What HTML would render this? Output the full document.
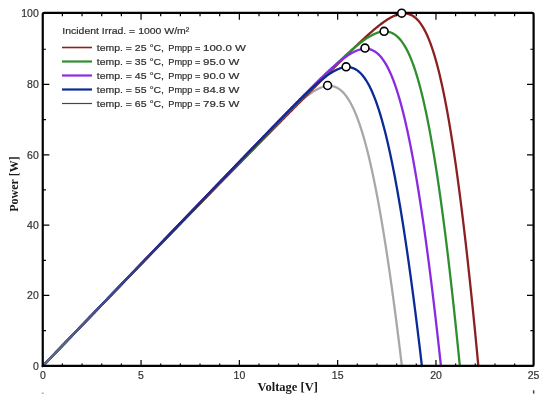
<!DOCTYPE html>
<html><head><meta charset="utf-8"><style>
html,body{margin:0;padding:0;background:#fff;}
body{width:550px;height:399px;overflow:hidden;}
svg{display:block;filter:blur(0.3px);}
.lab text{font-family:"Liberation Sans",sans-serif;font-size:10.5px;fill:#333;stroke:#333;stroke-width:0.2px;}
.leg text{font-family:"Liberation Sans",sans-serif;font-size:9.6px;fill:#2e2e2e;stroke:#2e2e2e;stroke-width:0.2px;}
.ttl{font-family:"Liberation Serif",serif;font-weight:bold;font-size:12px;fill:#1a1a1a;}
</style></head><body>
<svg width="550" height="399" viewBox="0 0 550 399">
<rect width="550" height="399" fill="#fff"/>
<g fill="none" stroke-width="2.3" stroke-linejoin="round" stroke-linecap="round">
<path d="M42.80,366.00 L44.13,364.62 L44.85,363.87 L45.57,363.12 L46.29,362.38 L47.01,361.63 L47.73,360.88 L48.45,360.13 L49.17,359.38 L49.89,358.63 L50.61,357.88 L51.33,357.14 L52.05,356.39 L52.77,355.64 L53.49,354.89 L54.21,354.14 L54.93,353.39 L55.66,352.64 L56.38,351.90 L57.10,351.15 L57.82,350.40 L58.54,349.65 L59.26,348.90 L59.98,348.15 L60.70,347.40 L61.42,346.66 L62.14,345.91 L62.86,345.16 L63.58,344.41 L64.30,343.66 L65.02,342.91 L65.74,342.16 L66.46,341.42 L67.18,340.67 L67.90,339.92 L68.63,339.17 L69.35,338.42 L70.07,337.67 L70.79,336.92 L71.51,336.18 L72.23,335.43 L72.95,334.68 L73.67,333.93 L74.39,333.18 L75.11,332.43 L75.83,331.68 L76.55,330.94 L77.27,330.19 L77.99,329.44 L78.71,328.69 L79.43,327.94 L80.15,327.19 L80.87,326.44 L81.59,325.70 L82.32,324.95 L83.04,324.20 L83.76,323.45 L84.48,322.70 L85.20,321.95 L85.92,321.20 L86.64,320.46 L87.36,319.71 L88.08,318.96 L88.80,318.21 L89.52,317.46 L90.24,316.71 L90.96,315.96 L91.68,315.22 L92.40,314.47 L93.12,313.72 L93.84,312.97 L94.56,312.22 L95.28,311.47 L96.01,310.72 L96.73,309.98 L97.45,309.23 L98.17,308.48 L98.89,307.73 L99.61,306.98 L100.33,306.23 L101.05,305.48 L101.77,304.74 L102.49,303.99 L103.21,303.24 L103.93,302.49 L104.65,301.74 L105.37,300.99 L106.09,300.24 L106.81,299.50 L107.53,298.75 L108.25,298.00 L108.97,297.25 L109.70,296.50 L110.42,295.75 L111.14,295.00 L111.86,294.26 L112.58,293.51 L113.30,292.76 L114.02,292.01 L114.74,291.26 L115.46,290.51 L116.18,289.76 L116.90,289.02 L117.62,288.27 L118.34,287.52 L119.06,286.77 L119.78,286.02 L120.50,285.27 L121.22,284.52 L121.94,283.78 L122.67,283.03 L123.39,282.28 L124.11,281.53 L124.83,280.78 L125.55,280.03 L126.27,279.28 L126.99,278.54 L127.71,277.79 L128.43,277.04 L129.15,276.29 L129.87,275.54 L130.59,274.79 L131.31,274.04 L132.03,273.30 L132.75,272.55 L133.47,271.80 L134.19,271.05 L134.91,270.30 L135.63,269.55 L136.36,268.80 L137.08,268.06 L137.80,267.31 L138.52,266.56 L139.24,265.81 L139.96,265.06 L140.68,264.31 L141.40,263.56 L142.12,262.82 L142.84,262.07 L143.56,261.32 L144.28,260.57 L145.00,259.82 L145.72,259.07 L146.44,258.32 L147.16,257.58 L147.88,256.83 L148.60,256.08 L149.32,255.33 L150.05,254.58 L150.77,253.83 L151.49,253.08 L152.21,252.34 L152.93,251.59 L153.65,250.84 L154.37,250.09 L155.09,249.34 L155.81,248.59 L156.53,247.84 L157.25,247.10 L157.97,246.35 L158.69,245.60 L159.41,244.85 L160.13,244.10 L160.85,243.35 L161.57,242.60 L162.29,241.86 L163.02,241.11 L163.74,240.36 L164.46,239.61 L165.18,238.86 L165.90,238.11 L166.62,237.36 L167.34,236.62 L168.06,235.87 L168.78,235.12 L169.50,234.37 L170.22,233.62 L170.94,232.87 L171.66,232.12 L172.38,231.38 L173.10,230.63 L173.82,229.88 L174.54,229.13 L175.26,228.38 L175.98,227.63 L176.71,226.88 L177.43,226.14 L178.15,225.39 L178.87,224.64 L179.59,223.89 L180.31,223.14 L181.03,222.39 L181.75,221.64 L182.47,220.90 L183.19,220.15 L183.91,219.40 L184.63,218.65 L185.35,217.90 L186.07,217.15 L186.79,216.40 L187.51,215.66 L188.23,214.91 L188.95,214.16 L189.68,213.41 L190.40,212.66 L191.12,211.91 L191.84,211.17 L192.56,210.42 L193.28,209.67 L194.00,208.92 L194.72,208.17 L195.44,207.42 L196.16,206.67 L196.88,205.93 L197.60,205.18 L198.32,204.43 L199.04,203.68 L199.76,202.93 L200.48,202.18 L201.20,201.44 L201.92,200.69 L202.65,199.94 L203.37,199.19 L204.09,198.44 L204.81,197.69 L205.53,196.95 L206.25,196.20 L206.97,195.45 L207.69,194.70 L208.41,193.95 L209.13,193.20 L209.85,192.46 L210.57,191.71 L211.29,190.96 L212.01,190.21 L212.73,189.46 L213.45,188.71 L214.17,187.97 L214.90,187.22 L215.62,186.47 L216.34,185.72 L217.06,184.97 L217.78,184.23 L218.50,183.48 L219.22,182.73 L219.94,181.98 L220.66,181.23 L221.38,180.49 L222.10,179.74 L222.82,178.99 L223.54,178.24 L224.26,177.49 L224.98,176.75 L225.70,176.00 L226.43,175.25 L227.15,174.50 L227.87,173.76 L228.59,173.01 L229.31,172.26 L230.03,171.51 L230.75,170.77 L231.47,170.02 L232.18,169.28 L232.90,168.53 L233.62,167.79 L234.34,167.04 L235.06,166.30 L235.78,165.55 L236.50,164.81 L237.21,164.06 L237.93,163.32 L238.65,162.58 L239.37,161.83 L240.09,161.09 L240.81,160.34 L241.53,159.60 L242.25,158.86 L242.96,158.11 L243.68,157.37 L244.40,156.63 L245.12,155.88 L245.84,155.14 L246.56,154.40 L247.28,153.65 L248.00,152.91 L248.72,152.17 L249.43,151.43 L250.15,150.69 L250.87,149.94 L251.59,149.20 L252.31,148.46 L253.03,147.72 L253.75,146.98 L254.47,146.24 L255.19,145.50 L255.91,144.76 L256.63,144.02 L257.34,143.28 L258.06,142.54 L258.78,141.80 L259.50,141.06 L260.22,140.33 L260.94,139.59 L261.66,138.85 L262.38,138.12 L263.10,137.38 L263.82,136.64 L264.54,135.91 L265.26,135.17 L265.98,134.44 L266.70,133.71 L267.42,132.97 L268.14,132.24 L268.86,131.51 L269.58,130.78 L270.30,130.05 L271.02,129.32 L271.74,128.59 L272.46,127.87 L273.19,127.14 L273.91,126.42 L274.63,125.69 L275.35,124.97 L276.07,124.25 L276.79,123.53 L277.51,122.81 L278.23,122.09 L278.96,121.37 L279.68,120.66 L280.40,119.94 L281.12,119.23 L281.85,118.52 L282.57,117.81 L283.29,117.10 L284.02,116.40 L284.74,115.70 L285.46,114.99 L286.19,114.29 L286.91,113.60 L287.64,112.90 L288.36,112.21 L289.08,111.52 L289.81,110.84 L290.54,110.15 L291.26,109.47 L291.99,108.80 L292.71,108.12 L293.44,107.45 L294.17,106.79 L294.90,106.12 L295.63,105.46 L296.35,104.81 L297.08,104.16 L297.81,103.51 L298.54,102.87 L299.27,102.24 L300.00,101.61 L300.74,100.98 L301.47,100.37 L302.20,99.75 L302.94,99.15 L303.67,98.55 L304.41,97.96 L305.14,97.37 L305.88,96.80 L306.62,96.23 L307.35,95.67 L308.09,95.12 L308.83,94.58 L309.58,94.04 L310.32,93.52 L311.06,93.01 L311.81,92.51 L312.55,92.03 L313.30,91.55 L314.05,91.09 L314.80,90.64 L315.50,90.24 L316.20,89.85 L316.90,89.47 L317.61,89.11 L318.31,88.76 L319.02,88.43 L319.73,88.11 L320.44,87.81 L321.15,87.53 L321.87,87.27 L322.59,87.03 L323.30,86.81 L324.02,86.61 L324.75,86.43 L325.47,86.27 L326.20,86.14 L326.93,86.04 L327.66,85.96 L328.39,85.91 L329.13,85.89 L329.87,85.90 L330.61,85.94 L331.36,86.01 L332.11,86.12 L332.86,86.27 L333.56,86.44 L334.27,86.64 L334.97,86.88 L335.69,87.16 L336.40,87.47 L337.12,87.83 L337.84,88.23 L338.57,88.67 L339.30,89.16 L340.03,89.69 L340.77,90.28 L341.51,90.92 L342.26,91.61 L343.01,92.36 L343.71,93.10 L344.36,93.83 L344.95,94.53 L345.54,95.27 L346.14,96.05 L346.68,96.78 L347.22,97.55 L347.70,98.27 L348.19,99.01 L348.68,99.79 L349.11,100.49 L349.54,101.21 L349.98,101.96 L350.42,102.74 L350.85,103.54 L351.23,104.24 L351.61,104.97 L351.99,105.72 L352.38,106.48 L352.76,107.27 L353.15,108.08 L353.54,108.91 L353.86,109.61 L354.19,110.34 L354.51,111.08 L354.84,111.83 L355.17,112.61 L355.50,113.39 L355.84,114.20 L356.17,115.02 L356.50,115.86 L356.84,116.72 L357.18,117.59 L357.45,118.31 L357.72,119.03 L358.00,119.77 L358.27,120.52 L358.55,121.28 L358.82,122.06 L359.10,122.84 L359.38,123.64 L359.66,124.46 L359.94,125.28 L360.22,126.12 L360.51,126.98 L360.79,127.84 L361.07,128.72 L361.36,129.62 L361.65,130.53 L361.94,131.45 L362.15,132.16 L362.37,132.87 L362.59,133.59 L362.81,134.31 L363.03,135.05 L363.25,135.80 L363.47,136.55 L363.69,137.31 L363.91,138.09 L364.14,138.87 L364.36,139.66 L364.58,140.46 L364.81,141.26 L365.04,142.08 L365.26,142.91 L365.49,143.75 L365.72,144.60 L365.95,145.45 L366.18,146.32 L366.41,147.20 L366.64,148.08 L366.87,148.98 L367.10,149.89 L367.34,150.81 L367.57,151.73 L367.81,152.67 L368.04,153.62 L368.28,154.58 L368.52,155.56 L368.75,156.54 L368.99,157.53 L369.23,158.54 L369.47,159.56 L369.72,160.59 L369.96,161.63 L370.12,162.33 L370.28,163.03 L370.45,163.74 L370.61,164.46 L370.77,165.18 L370.94,165.91 L371.10,166.64 L371.27,167.38 L371.43,168.12 L371.60,168.87 L371.77,169.62 L371.93,170.39 L372.10,171.15 L372.27,171.92 L372.44,172.70 L372.60,173.48 L372.77,174.27 L372.94,175.07 L373.11,175.87 L373.28,176.68 L373.45,177.49 L373.62,178.31 L373.79,179.14 L373.97,179.97 L374.14,180.81 L374.31,181.65 L374.49,182.50 L374.66,183.36 L374.83,184.22 L375.01,185.09 L375.18,185.97 L375.36,186.85 L375.54,187.74 L375.71,188.63 L375.89,189.53 L376.07,190.44 L376.24,191.36 L376.42,192.28 L376.60,193.21 L376.78,194.15 L376.96,195.09 L377.14,196.04 L377.32,197.00 L377.50,197.96 L377.69,198.93 L377.87,199.91 L378.05,200.90 L378.23,201.89 L378.42,202.89 L378.60,203.90 L378.79,204.92 L378.97,205.94 L379.16,206.97 L379.35,208.01 L379.53,209.05 L379.72,210.11 L379.91,211.17 L380.10,212.24 L380.29,213.31 L380.48,214.40 L380.67,215.49 L380.86,216.59 L381.05,217.70 L381.24,218.82 L381.44,219.95 L381.63,221.08 L381.82,222.22 L382.02,223.37 L382.21,224.53 L382.41,225.70 L382.61,226.87 L382.80,228.06 L383.00,229.25 L383.20,230.45 L383.40,231.67 L383.60,232.89 L383.80,234.11 L384.00,235.35 L384.20,236.60 L384.40,237.86 L384.60,239.12 L384.80,240.40 L385.01,241.68 L385.21,242.97 L385.42,244.28 L385.62,245.59 L385.83,246.91 L386.04,248.24 L386.24,249.58 L386.45,250.94 L386.66,252.30 L386.87,253.67 L387.08,255.05 L387.29,256.44 L387.50,257.84 L387.61,258.55 L387.71,259.25 L387.82,259.96 L387.93,260.68 L388.03,261.39 L388.14,262.11 L388.25,262.83 L388.36,263.55 L388.46,264.28 L388.57,265.01 L388.68,265.74 L388.79,266.47 L388.89,267.21 L389.00,267.95 L389.11,268.69 L389.22,269.43 L389.33,270.18 L389.44,270.93 L389.55,271.68 L389.66,272.44 L389.77,273.20 L389.87,273.96 L389.98,274.72 L390.09,275.49 L390.21,276.26 L390.32,277.03 L390.43,277.80 L390.54,278.58 L390.65,279.36 L390.76,280.15 L390.87,280.93 L390.98,281.72 L391.09,282.51 L391.21,283.31 L391.32,284.11 L391.43,284.91 L391.54,285.71 L391.66,286.52 L391.77,287.33 L391.88,288.14 L392.00,288.96 L392.11,289.77 L392.22,290.60 L392.34,291.42 L392.45,292.25 L392.56,293.08 L392.68,293.91 L392.79,294.75 L392.91,295.59 L393.02,296.43 L393.14,297.28 L393.25,298.13 L393.37,298.98 L393.49,299.84 L393.60,300.69 L393.72,301.56 L393.83,302.42 L393.95,303.29 L394.07,304.16 L394.19,305.03 L394.30,305.91 L394.42,306.79 L394.54,307.68 L394.66,308.56 L394.77,309.45 L394.89,310.35 L395.01,311.24 L395.13,312.14 L395.25,313.05 L395.37,313.95 L395.49,314.86 L395.61,315.78 L395.73,316.70 L395.85,317.62 L395.97,318.54 L396.09,319.47 L396.21,320.40 L396.33,321.33 L396.45,322.27 L396.57,323.21 L396.69,324.15 L396.81,325.10 L396.93,326.05 L397.06,327.01 L397.18,327.96 L397.30,328.93 L397.42,329.89 L397.55,330.86 L397.67,331.83 L397.79,332.81 L397.92,333.79 L398.04,334.77 L398.17,335.76 L398.29,336.75 L398.42,337.74 L398.54,338.74 L398.66,339.74 L398.79,340.74 L398.92,341.75 L399.04,342.76 L399.17,343.78 L399.29,344.80 L399.42,345.82 L399.55,346.85 L399.67,347.88 L399.80,348.92 L399.93,349.95 L400.06,351.00 L400.18,352.04 L400.31,353.09 L400.44,354.15 L400.57,355.21 L400.70,356.27 L400.83,357.33 L400.95,358.40 L401.08,359.48 L401.21,360.55 L401.34,361.63 L401.47,362.72 L401.60,363.81 L401.74,364.90 L401.87,366.00" stroke="#a8a8a8"/>
<path d="M42.80,366.00 L43.85,364.90 L44.73,363.99 L45.60,363.08 L46.48,362.17 L47.36,361.26 L48.23,360.35 L49.11,359.44 L49.98,358.53 L50.86,357.62 L51.73,356.71 L52.61,355.80 L53.48,354.89 L54.36,353.98 L55.23,353.07 L56.11,352.16 L56.98,351.25 L57.86,350.34 L58.73,349.43 L59.61,348.52 L60.48,347.61 L61.36,346.71 L62.23,345.80 L63.11,344.89 L63.98,343.98 L64.86,343.07 L65.73,342.16 L66.61,341.25 L67.48,340.34 L68.36,339.44 L69.24,338.53 L70.11,337.62 L70.99,336.71 L71.86,335.80 L72.74,334.89 L73.61,333.99 L74.49,333.08 L75.36,332.17 L76.24,331.26 L77.11,330.36 L77.99,329.45 L78.86,328.54 L79.74,327.63 L80.61,326.73 L81.49,325.82 L82.36,324.91 L83.24,324.00 L84.11,323.10 L84.99,322.19 L85.86,321.28 L86.74,320.38 L87.61,319.47 L88.49,318.56 L89.36,317.66 L90.24,316.75 L91.11,315.85 L91.99,314.94 L92.87,314.03 L93.74,313.13 L94.62,312.22 L95.49,311.31 L96.37,310.41 L97.24,309.50 L98.12,308.60 L98.99,307.69 L99.87,306.79 L100.74,305.88 L101.62,304.98 L102.49,304.07 L103.37,303.17 L104.24,302.26 L105.12,301.36 L105.99,300.45 L106.87,299.55 L107.74,298.64 L108.62,297.74 L109.49,296.83 L110.37,295.93 L111.24,295.02 L112.12,294.12 L112.99,293.21 L113.87,292.31 L114.75,291.41 L115.62,290.50 L116.50,289.60 L117.37,288.70 L118.25,287.79 L119.12,286.89 L120.00,285.98 L120.87,285.08 L121.75,284.18 L122.62,283.27 L123.50,282.37 L124.37,281.47 L125.25,280.56 L126.12,279.66 L127.00,278.76 L127.87,277.86 L128.75,276.95 L129.62,276.05 L130.50,275.15 L131.37,274.25 L132.25,273.34 L133.12,272.44 L134.00,271.54 L134.87,270.64 L135.75,269.73 L136.63,268.83 L137.50,267.93 L138.38,267.03 L139.25,266.13 L140.13,265.23 L141.00,264.32 L141.88,263.42 L142.75,262.52 L143.63,261.62 L144.50,260.72 L145.38,259.82 L146.25,258.92 L147.13,258.02 L148.00,257.11 L148.88,256.21 L149.75,255.31 L150.63,254.41 L151.50,253.51 L152.38,252.61 L153.25,251.71 L154.13,250.81 L155.00,249.91 L155.88,249.01 L156.75,248.11 L157.63,247.21 L158.51,246.31 L159.38,245.41 L160.26,244.51 L161.13,243.61 L162.01,242.71 L162.88,241.81 L163.76,240.91 L164.63,240.01 L165.51,239.11 L166.38,238.21 L167.26,237.32 L168.13,236.42 L169.01,235.52 L169.88,234.62 L170.76,233.72 L171.63,232.82 L172.51,231.92 L173.38,231.02 L174.26,230.13 L175.13,229.23 L176.01,228.33 L176.88,227.43 L177.76,226.53 L178.63,225.63 L179.51,224.74 L180.39,223.84 L181.26,222.94 L182.14,222.04 L183.01,221.15 L183.89,220.25 L184.76,219.35 L185.64,218.45 L186.51,217.56 L187.39,216.66 L188.26,215.76 L189.14,214.87 L190.01,213.97 L190.89,213.07 L191.76,212.17 L192.64,211.28 L193.51,210.38 L194.39,209.48 L195.26,208.59 L196.14,207.69 L197.01,206.80 L197.89,205.90 L198.76,205.00 L199.64,204.11 L200.51,203.21 L201.39,202.32 L202.26,201.42 L203.14,200.52 L204.02,199.63 L204.89,198.73 L205.77,197.84 L206.64,196.94 L207.52,196.05 L208.39,195.15 L209.27,194.26 L210.14,193.36 L211.02,192.47 L211.89,191.57 L212.77,190.68 L213.64,189.78 L214.52,188.89 L215.39,187.99 L216.27,187.10 L217.14,186.20 L218.02,185.31 L218.89,184.42 L219.77,183.52 L220.64,182.63 L221.52,181.73 L222.39,180.84 L223.27,179.95 L224.14,179.05 L225.02,178.16 L225.90,177.27 L226.77,176.37 L227.65,175.48 L228.52,174.59 L229.40,173.69 L230.27,172.80 L231.15,171.91 L232.02,171.01 L232.90,170.12 L233.77,169.23 L234.65,168.33 L235.52,167.44 L236.40,166.55 L237.27,165.66 L238.15,164.76 L239.02,163.87 L239.90,162.98 L240.77,162.09 L241.65,161.20 L242.52,160.30 L243.40,159.41 L244.27,158.52 L245.15,157.63 L246.02,156.74 L246.90,155.85 L247.78,154.95 L248.65,154.06 L249.53,153.17 L250.40,152.28 L251.28,151.39 L252.15,150.50 L253.03,149.61 L253.90,148.72 L254.78,147.83 L255.65,146.93 L256.53,146.04 L257.40,145.15 L258.28,144.26 L259.15,143.37 L260.03,142.48 L260.90,141.59 L261.78,140.70 L262.65,139.81 L263.53,138.92 L264.40,138.03 L265.28,137.14 L266.15,136.25 L267.03,135.36 L267.90,134.47 L268.78,133.59 L269.66,132.70 L270.53,131.81 L271.41,130.92 L272.28,130.03 L273.16,129.14 L274.03,128.25 L274.91,127.36 L275.78,126.47 L276.66,125.59 L277.53,124.70 L278.41,123.81 L279.11,123.10 L279.80,122.39 L280.50,121.68 L281.20,120.97 L281.90,120.27 L282.60,119.56 L283.29,118.85 L283.99,118.14 L284.69,117.43 L285.39,116.73 L286.09,116.02 L286.78,115.31 L287.48,114.60 L288.18,113.90 L288.88,113.19 L289.58,112.48 L290.27,111.77 L290.97,111.07 L291.67,110.36 L292.37,109.65 L293.07,108.94 L293.77,108.24 L294.46,107.53 L295.16,106.82 L295.86,106.12 L296.56,105.41 L297.26,104.70 L297.95,104.00 L298.65,103.29 L299.35,102.58 L300.05,101.88 L300.75,101.17 L301.44,100.46 L302.14,99.76 L302.84,99.05 L303.54,98.35 L304.24,97.64 L304.94,96.94 L305.63,96.23 L306.33,95.52 L307.03,94.82 L307.73,94.11 L308.43,93.41 L309.12,92.70 L309.82,92.00 L310.52,91.29 L311.22,90.59 L311.92,89.89 L312.62,89.18 L313.31,88.48 L314.01,87.77 L314.71,87.07 L315.41,86.37 L316.11,85.66 L316.81,84.96 L317.50,84.25 L318.20,83.55 L318.90,82.85 L319.60,82.15 L320.30,81.44 L321.00,80.74 L321.69,80.04 L322.39,79.34 L323.09,78.64 L323.79,77.93 L324.49,77.23 L325.19,76.53 L325.88,75.83 L326.58,75.13 L327.28,74.43 L327.98,73.73 L328.74,72.97 L329.49,72.21 L330.25,71.46 L331.01,70.70 L331.76,69.94 L332.52,69.19 L333.28,68.43 L334.03,67.68 L334.79,66.92 L335.55,66.17 L336.31,65.41 L337.06,64.66 L337.82,63.91 L338.58,63.16 L339.33,62.40 L340.09,61.65 L340.85,60.90 L341.61,60.15 L342.36,59.40 L343.12,58.66 L343.88,57.91 L344.64,57.16 L345.39,56.42 L346.15,55.67 L346.91,54.93 L347.67,54.19 L348.42,53.45 L349.18,52.70 L349.94,51.97 L350.70,51.23 L351.46,50.49 L352.16,49.81 L352.86,49.13 L353.56,48.46 L354.26,47.78 L354.96,47.11 L355.66,46.44 L356.36,45.77 L357.06,45.10 L357.76,44.43 L358.46,43.76 L359.16,43.10 L359.87,42.44 L360.57,41.78 L361.27,41.12 L361.97,40.46 L362.67,39.81 L363.37,39.16 L364.08,38.51 L364.78,37.86 L365.48,37.22 L366.19,36.57 L366.89,35.94 L367.59,35.30 L368.30,34.67 L369.00,34.04 L369.70,33.41 L370.41,32.79 L371.11,32.17 L371.82,31.56 L372.52,30.95 L373.23,30.34 L373.93,29.74 L374.64,29.15 L375.35,28.56 L376.05,27.97 L376.76,27.39 L377.47,26.81 L378.18,26.24 L378.89,25.68 L379.59,25.13 L380.30,24.58 L381.01,24.03 L381.72,23.50 L382.44,22.97 L383.15,22.45 L383.86,21.94 L384.57,21.44 L385.29,20.95 L386.00,20.47 L386.72,20.00 L387.43,19.54 L388.15,19.09 L388.87,18.65 L389.59,18.22 L390.30,17.81 L391.03,17.41 L391.75,17.03 L392.47,16.66 L393.19,16.30 L393.92,15.96 L394.64,15.64 L395.37,15.34 L396.10,15.05 L396.83,14.79 L397.56,14.54 L398.29,14.32 L399.02,14.11 L399.76,13.94 L400.50,13.78 L401.24,13.65 L401.98,13.55 L402.72,13.48 L403.46,13.44 L404.21,13.42 L404.96,13.44 L405.71,13.49 L406.46,13.58 L407.22,13.71 L407.98,13.87 L408.74,14.07 L409.44,14.30 L410.14,14.56 L410.85,14.86 L411.56,15.20 L412.27,15.58 L412.98,16.01 L413.70,16.48 L414.42,17.00 L415.14,17.57 L415.87,18.19 L416.60,18.87 L417.33,19.61 L418.00,20.32 L418.67,21.09 L419.28,21.83 L419.89,22.61 L420.44,23.35 L420.99,24.12 L421.47,24.82 L421.96,25.56 L422.44,26.33 L422.93,27.13 L423.35,27.84 L423.77,28.57 L424.19,29.34 L424.62,30.12 L425.05,30.94 L425.47,31.78 L425.83,32.50 L426.19,33.24 L426.55,34.01 L426.91,34.79 L427.28,35.59 L427.64,36.42 L428.01,37.27 L428.37,38.13 L428.67,38.85 L428.96,39.57 L429.26,40.31 L429.56,41.07 L429.86,41.84 L430.16,42.63 L430.46,43.43 L430.76,44.25 L431.06,45.09 L431.36,45.94 L431.67,46.81 L431.97,47.70 L432.28,48.60 L432.59,49.52 L432.82,50.23 L433.05,50.94 L433.28,51.66 L433.52,52.40 L433.75,53.14 L433.99,53.90 L434.22,54.66 L434.46,55.44 L434.69,56.23 L434.93,57.03 L435.17,57.84 L435.41,58.67 L435.65,59.50 L435.89,60.35 L436.13,61.21 L436.37,62.08 L436.61,62.96 L436.86,63.86 L437.10,64.76 L437.34,65.69 L437.59,66.62 L437.84,67.57 L438.08,68.53 L438.33,69.50 L438.58,70.49 L438.83,71.49 L439.08,72.50 L439.33,73.53 L439.58,74.57 L439.75,75.28 L439.92,75.98 L440.09,76.70 L440.26,77.42 L440.43,78.15 L440.60,78.89 L440.77,79.63 L440.94,80.38 L441.11,81.13 L441.28,81.90 L441.45,82.67 L441.63,83.44 L441.80,84.23 L441.97,85.02 L442.15,85.82 L442.32,86.62 L442.49,87.43 L442.67,88.25 L442.85,89.08 L443.02,89.91 L443.20,90.76 L443.37,91.61 L443.55,92.46 L443.73,93.33 L443.91,94.20 L444.09,95.08 L444.27,95.97 L444.44,96.86 L444.62,97.77 L444.81,98.68 L444.99,99.60 L445.17,100.53 L445.35,101.47 L445.53,102.41 L445.71,103.36 L445.90,104.33 L446.08,105.30 L446.27,106.27 L446.45,107.26 L446.64,108.26 L446.82,109.26 L447.01,110.28 L447.20,111.30 L447.38,112.33 L447.57,113.37 L447.76,114.42 L447.95,115.48 L448.14,116.55 L448.33,117.63 L448.52,118.72 L448.71,119.82 L448.90,120.92 L449.09,122.04 L449.28,123.16 L449.48,124.30 L449.67,125.45 L449.87,126.60 L450.06,127.77 L450.26,128.95 L450.45,130.13 L450.65,131.33 L450.85,132.54 L451.04,133.76 L451.24,134.99 L451.44,136.23 L451.64,137.48 L451.84,138.74 L452.04,140.01 L452.24,141.29 L452.45,142.59 L452.65,143.89 L452.85,145.21 L453.06,146.54 L453.26,147.88 L453.46,149.23 L453.67,150.59 L453.88,151.97 L454.08,153.36 L454.29,154.76 L454.40,155.46 L454.50,156.17 L454.61,156.88 L454.71,157.59 L454.81,158.31 L454.92,159.03 L455.02,159.75 L455.13,160.48 L455.24,161.21 L455.34,161.94 L455.45,162.67 L455.55,163.41 L455.66,164.15 L455.77,164.90 L455.87,165.65 L455.98,166.40 L456.09,167.15 L456.19,167.91 L456.30,168.67 L456.41,169.44 L456.52,170.20 L456.62,170.97 L456.73,171.75 L456.84,172.53 L456.95,173.31 L457.06,174.09 L457.17,174.88 L457.27,175.67 L457.38,176.47 L457.49,177.26 L457.60,178.07 L457.71,178.87 L457.82,179.68 L457.93,180.49 L458.04,181.31 L458.15,182.12 L458.26,182.95 L458.37,183.77 L458.48,184.60 L458.60,185.44 L458.71,186.27 L458.82,187.11 L458.93,187.96 L459.04,188.80 L459.15,189.66 L459.27,190.51 L459.38,191.37 L459.49,192.23 L459.60,193.10 L459.72,193.97 L459.83,194.84 L459.94,195.72 L460.06,196.60 L460.17,197.48 L460.29,198.37 L460.40,199.26 L460.51,200.16 L460.63,201.06 L460.74,201.96 L460.86,202.87 L460.97,203.78 L461.09,204.70 L461.21,205.62 L461.32,206.54 L461.44,207.47 L461.55,208.40 L461.67,209.34 L461.79,210.27 L461.91,211.22 L462.02,212.17 L462.14,213.12 L462.26,214.07 L462.38,215.03 L462.49,216.00 L462.61,216.97 L462.73,217.94 L462.85,218.91 L462.97,219.89 L463.09,220.88 L463.21,221.87 L463.33,222.86 L463.45,223.86 L463.57,224.86 L463.69,225.87 L463.81,226.88 L463.93,227.89 L464.05,228.91 L464.17,229.94 L464.29,230.96 L464.41,232.00 L464.54,233.03 L464.66,234.07 L464.78,235.12 L464.90,236.17 L465.03,237.22 L465.15,238.28 L465.27,239.35 L465.39,240.42 L465.52,241.49 L465.64,242.57 L465.77,243.65 L465.89,244.74 L466.02,245.83 L466.14,246.92 L466.27,248.02 L466.39,249.13 L466.52,250.24 L466.64,251.36 L466.77,252.48 L466.90,253.60 L467.02,254.73 L467.15,255.87 L467.28,257.00 L467.40,258.15 L467.53,259.30 L467.66,260.45 L467.79,261.61 L467.92,262.78 L468.05,263.94 L468.17,265.12 L468.30,266.30 L468.43,267.48 L468.56,268.67 L468.69,269.87 L468.82,271.07 L468.95,272.27 L469.08,273.48 L469.22,274.69 L469.35,275.91 L469.48,277.14 L469.61,278.37 L469.74,279.61 L469.88,280.85 L470.01,282.10 L470.14,283.35 L470.27,284.61 L470.41,285.87 L470.54,287.14 L470.68,288.41 L470.81,289.69 L470.94,290.97 L471.08,292.26 L471.21,293.56 L471.35,294.86 L471.49,296.17 L471.62,297.48 L471.76,298.80 L471.89,300.12 L472.03,301.45 L472.17,302.79 L472.31,304.13 L472.44,305.48 L472.58,306.83 L472.72,308.19 L472.86,309.55 L473.00,310.92 L473.14,312.30 L473.28,313.68 L473.42,315.07 L473.56,316.46 L473.70,317.86 L473.84,319.27 L473.98,320.68 L474.12,322.10 L474.26,323.52 L474.40,324.95 L474.54,326.39 L474.69,327.83 L474.83,329.28 L474.97,330.74 L475.12,332.20 L475.26,333.67 L475.40,335.14 L475.55,336.62 L475.69,338.11 L475.84,339.60 L475.98,341.10 L476.13,342.61 L476.27,344.12 L476.42,345.64 L476.57,347.17 L476.71,348.70 L476.86,350.24 L477.01,351.78 L477.16,353.34 L477.30,354.90 L477.45,356.46 L477.60,358.03 L477.75,359.61 L477.90,361.20 L478.05,362.79 L478.20,364.39 L478.35,366.00" stroke="#8c1f1f"/>
<path d="M42.80,366.00 L44.18,364.57 L45.01,363.70 L45.85,362.83 L46.69,361.96 L47.53,361.08 L48.36,360.21 L49.20,359.34 L50.04,358.47 L50.88,357.60 L51.71,356.73 L52.55,355.86 L53.39,354.99 L54.23,354.12 L55.06,353.25 L55.90,352.38 L56.74,351.51 L57.58,350.64 L58.41,349.77 L59.25,348.90 L60.09,348.03 L60.93,347.16 L61.76,346.29 L62.60,345.42 L63.44,344.55 L64.28,343.68 L65.11,342.81 L65.95,341.94 L66.79,341.07 L67.63,340.20 L68.46,339.33 L69.30,338.46 L70.14,337.59 L70.98,336.72 L71.81,335.85 L72.65,334.98 L73.49,334.12 L74.33,333.25 L75.16,332.38 L76.00,331.51 L76.84,330.64 L77.67,329.77 L78.51,328.90 L79.35,328.03 L80.19,327.16 L81.02,326.29 L81.86,325.42 L82.70,324.56 L83.54,323.69 L84.37,322.82 L85.21,321.95 L86.05,321.08 L86.89,320.21 L87.72,319.34 L88.56,318.47 L89.40,317.61 L90.24,316.74 L91.07,315.87 L91.91,315.00 L92.75,314.13 L93.59,313.26 L94.42,312.39 L95.26,311.53 L96.10,310.66 L96.94,309.79 L97.77,308.92 L98.61,308.05 L99.45,307.19 L100.29,306.32 L101.12,305.45 L101.96,304.58 L102.80,303.71 L103.64,302.84 L104.47,301.98 L105.31,301.11 L106.15,300.24 L106.99,299.37 L107.82,298.51 L108.66,297.64 L109.50,296.77 L110.33,295.90 L111.17,295.04 L112.01,294.17 L112.85,293.30 L113.68,292.43 L114.52,291.57 L115.36,290.70 L116.20,289.83 L117.03,288.96 L117.87,288.10 L118.71,287.23 L119.55,286.36 L120.38,285.49 L121.22,284.63 L122.06,283.76 L122.90,282.89 L123.73,282.03 L124.57,281.16 L125.41,280.29 L126.25,279.43 L127.08,278.56 L127.92,277.69 L128.76,276.83 L129.60,275.96 L130.43,275.09 L131.27,274.23 L132.11,273.36 L132.95,272.49 L133.78,271.63 L134.62,270.76 L135.46,269.89 L136.30,269.03 L137.13,268.16 L137.97,267.29 L138.81,266.43 L139.64,265.56 L140.48,264.70 L141.32,263.83 L142.16,262.96 L142.99,262.10 L143.83,261.23 L144.67,260.37 L145.51,259.50 L146.34,258.63 L147.18,257.77 L148.02,256.90 L148.86,256.04 L149.69,255.17 L150.53,254.31 L151.37,253.44 L152.21,252.57 L153.04,251.71 L153.88,250.84 L154.72,249.98 L155.56,249.11 L156.39,248.25 L157.23,247.38 L158.07,246.52 L158.91,245.65 L159.74,244.79 L160.58,243.92 L161.42,243.06 L162.26,242.19 L163.09,241.33 L163.93,240.46 L164.77,239.60 L165.61,238.73 L166.44,237.87 L167.28,237.00 L168.12,236.14 L168.96,235.27 L169.79,234.41 L170.63,233.54 L171.47,232.68 L172.30,231.81 L173.14,230.95 L173.98,230.08 L174.82,229.22 L175.65,228.35 L176.49,227.49 L177.33,226.63 L178.17,225.76 L179.00,224.90 L179.84,224.03 L180.68,223.17 L181.52,222.30 L182.35,221.44 L183.19,220.58 L184.03,219.71 L184.87,218.85 L185.70,217.98 L186.54,217.12 L187.38,216.26 L188.22,215.39 L189.05,214.53 L189.89,213.66 L190.73,212.80 L191.57,211.94 L192.40,211.07 L193.24,210.21 L194.08,209.35 L194.92,208.48 L195.75,207.62 L196.59,206.76 L197.43,205.89 L198.27,205.03 L199.10,204.17 L199.94,203.30 L200.78,202.44 L201.61,201.58 L202.45,200.71 L203.29,199.85 L204.13,198.99 L204.96,198.12 L205.80,197.26 L206.64,196.40 L207.48,195.53 L208.31,194.67 L209.15,193.81 L209.99,192.95 L210.83,192.08 L211.66,191.22 L212.50,190.36 L213.34,189.50 L214.18,188.63 L215.01,187.77 L215.85,186.91 L216.69,186.05 L217.53,185.18 L218.36,184.32 L219.20,183.46 L220.04,182.60 L220.88,181.73 L221.71,180.87 L222.55,180.01 L223.39,179.15 L224.23,178.29 L225.06,177.42 L225.90,176.56 L226.74,175.70 L227.58,174.84 L228.41,173.98 L229.25,173.11 L230.09,172.25 L230.93,171.39 L231.76,170.53 L232.60,169.67 L233.44,168.80 L234.28,167.94 L235.11,167.08 L235.95,166.22 L236.79,165.36 L237.62,164.50 L238.46,163.64 L239.30,162.77 L240.14,161.91 L240.97,161.05 L241.81,160.19 L242.65,159.33 L243.49,158.47 L244.32,157.61 L245.16,156.75 L246.00,155.89 L246.84,155.03 L247.67,154.16 L248.51,153.30 L249.35,152.44 L250.19,151.58 L251.02,150.72 L251.86,149.86 L252.70,149.00 L253.54,148.14 L254.37,147.28 L255.21,146.42 L256.05,145.56 L256.89,144.70 L257.72,143.84 L258.56,142.98 L259.40,142.12 L260.24,141.26 L261.07,140.40 L261.91,139.54 L262.75,138.68 L263.59,137.82 L264.42,136.96 L265.26,136.10 L266.10,135.24 L266.94,134.38 L267.77,133.52 L268.50,132.78 L269.22,132.04 L269.94,131.29 L270.67,130.55 L271.39,129.81 L272.12,129.07 L272.84,128.32 L273.56,127.58 L274.29,126.84 L275.01,126.10 L275.73,125.36 L276.46,124.62 L277.18,123.87 L277.91,123.13 L278.63,122.39 L279.35,121.65 L280.08,120.91 L280.80,120.17 L281.52,119.42 L282.25,118.68 L282.97,117.94 L283.69,117.20 L284.42,116.46 L285.14,115.72 L285.87,114.98 L286.59,114.24 L287.31,113.50 L288.04,112.76 L288.76,112.02 L289.49,111.28 L290.21,110.54 L290.93,109.80 L291.66,109.06 L292.38,108.32 L293.10,107.58 L293.83,106.84 L294.55,106.10 L295.28,105.36 L296.00,104.62 L296.72,103.88 L297.45,103.15 L298.17,102.41 L298.90,101.67 L299.62,100.93 L300.34,100.19 L301.07,99.46 L301.79,98.72 L302.52,97.98 L303.24,97.25 L303.96,96.51 L304.69,95.77 L305.41,95.04 L306.14,94.30 L306.86,93.57 L307.59,92.83 L308.31,92.10 L309.03,91.36 L309.76,90.63 L310.48,89.90 L311.21,89.16 L311.93,88.43 L312.66,87.70 L313.38,86.97 L314.10,86.23 L314.83,85.50 L315.55,84.77 L316.28,84.04 L317.00,83.31 L317.73,82.58 L318.45,81.86 L319.18,81.13 L319.90,80.40 L320.63,79.68 L321.35,78.95 L322.08,78.22 L322.80,77.50 L323.53,76.78 L324.25,76.06 L324.98,75.33 L325.70,74.61 L326.43,73.89 L327.15,73.17 L327.88,72.46 L328.61,71.74 L329.33,71.03 L330.06,70.31 L330.78,69.60 L331.51,68.89 L332.24,68.18 L332.96,67.47 L333.69,66.76 L334.41,66.05 L335.14,65.35 L335.87,64.65 L336.60,63.95 L337.32,63.25 L338.05,62.55 L338.78,61.85 L339.50,61.16 L340.23,60.47 L340.96,59.78 L341.69,59.10 L342.42,58.41 L343.15,57.73 L343.87,57.05 L344.60,56.38 L345.33,55.70 L346.06,55.04 L346.79,54.37 L347.52,53.71 L348.25,53.05 L348.98,52.39 L349.71,51.74 L350.44,51.09 L351.18,50.45 L351.91,49.81 L352.64,49.18 L353.37,48.55 L354.10,47.92 L354.84,47.30 L355.57,46.69 L356.31,46.08 L357.04,45.48 L357.78,44.89 L358.51,44.30 L359.25,43.72 L359.98,43.14 L360.72,42.57 L361.46,42.01 L362.20,41.46 L362.94,40.92 L363.68,40.39 L364.42,39.86 L365.16,39.35 L365.90,38.85 L366.64,38.35 L367.39,37.87 L368.13,37.40 L368.87,36.95 L369.62,36.50 L370.37,36.07 L371.12,35.65 L371.87,35.25 L372.62,34.86 L373.37,34.49 L374.12,34.14 L374.87,33.80 L375.63,33.49 L376.39,33.19 L377.14,32.91 L377.84,32.67 L378.55,32.45 L379.25,32.25 L379.96,32.07 L380.66,31.91 L381.37,31.77 L382.08,31.66 L382.79,31.57 L383.50,31.51 L384.22,31.47 L384.94,31.46 L385.65,31.47 L386.38,31.52 L387.10,31.59 L387.82,31.70 L388.55,31.85 L389.28,32.02 L390.01,32.23 L390.75,32.49 L391.48,32.78 L392.22,33.11 L392.97,33.48 L393.71,33.90 L394.46,34.36 L395.21,34.88 L395.97,35.44 L396.73,36.06 L397.49,36.73 L398.19,37.40 L398.90,38.11 L399.61,38.88 L400.26,39.62 L400.84,40.33 L401.43,41.08 L402.02,41.87 L402.55,42.61 L403.08,43.37 L403.54,44.08 L404.01,44.80 L404.48,45.56 L404.95,46.34 L405.42,47.15 L405.83,47.88 L406.23,48.62 L406.64,49.38 L407.05,50.17 L407.47,50.98 L407.88,51.82 L408.23,52.54 L408.57,53.27 L408.92,54.02 L409.27,54.79 L409.62,55.58 L409.97,56.39 L410.32,57.22 L410.68,58.06 L411.03,58.93 L411.32,59.63 L411.61,60.35 L411.89,61.09 L412.18,61.84 L412.47,62.60 L412.76,63.37 L413.05,64.16 L413.34,64.96 L413.63,65.78 L413.92,66.61 L414.22,67.46 L414.51,68.32 L414.81,69.20 L415.10,70.09 L415.40,71.00 L415.70,71.93 L415.93,72.63 L416.15,73.35 L416.38,74.07 L416.60,74.80 L416.83,75.54 L417.06,76.29 L417.28,77.06 L417.51,77.83 L417.74,78.61 L417.97,79.40 L418.20,80.20 L418.43,81.01 L418.67,81.84 L418.90,82.67 L419.13,83.51 L419.36,84.37 L419.60,85.23 L419.83,86.11 L420.07,86.99 L420.31,87.89 L420.54,88.80 L420.78,89.72 L421.02,90.66 L421.26,91.60 L421.50,92.56 L421.74,93.52 L421.98,94.50 L422.22,95.50 L422.46,96.50 L422.71,97.52 L422.95,98.55 L423.20,99.59 L423.36,100.29 L423.52,101.00 L423.69,101.72 L423.85,102.44 L424.02,103.16 L424.18,103.89 L424.35,104.63 L424.52,105.38 L424.68,106.13 L424.85,106.88 L425.02,107.64 L425.18,108.41 L425.35,109.19 L425.52,109.97 L425.69,110.76 L425.86,111.55 L426.03,112.35 L426.20,113.16 L426.37,113.97 L426.54,114.79 L426.71,115.62 L426.88,116.45 L427.05,117.29 L427.22,118.14 L427.40,118.99 L427.57,119.85 L427.74,120.72 L427.92,121.59 L428.09,122.47 L428.27,123.36 L428.44,124.26 L428.62,125.16 L428.79,126.07 L428.97,126.99 L429.14,127.91 L429.32,128.85 L429.50,129.79 L429.68,130.73 L429.86,131.69 L430.03,132.65 L430.21,133.62 L430.39,134.60 L430.57,135.59 L430.75,136.58 L430.93,137.58 L431.12,138.59 L431.30,139.61 L431.48,140.63 L431.66,141.67 L431.85,142.71 L432.03,143.76 L432.21,144.82 L432.40,145.89 L432.58,146.96 L432.77,148.05 L432.96,149.14 L433.14,150.24 L433.33,151.35 L433.52,152.47 L433.71,153.60 L433.89,154.74 L434.08,155.88 L434.27,157.04 L434.46,158.20 L434.65,159.37 L434.85,160.56 L435.04,161.75 L435.23,162.95 L435.42,164.16 L435.62,165.38 L435.81,166.61 L436.00,167.85 L436.20,169.10 L436.39,170.36 L436.59,171.63 L436.79,172.91 L436.98,174.20 L437.18,175.50 L437.38,176.81 L437.58,178.13 L437.78,179.46 L437.98,180.80 L438.18,182.15 L438.38,183.51 L438.58,184.88 L438.78,186.27 L438.99,187.66 L439.09,188.36 L439.19,189.07 L439.29,189.77 L439.39,190.48 L439.50,191.20 L439.60,191.91 L439.70,192.63 L439.80,193.35 L439.91,194.07 L440.01,194.80 L440.11,195.53 L440.22,196.26 L440.32,197.00 L440.42,197.73 L440.53,198.47 L440.63,199.22 L440.74,199.96 L440.84,200.71 L440.94,201.47 L441.05,202.22 L441.15,202.98 L441.26,203.74 L441.36,204.50 L441.47,205.27 L441.57,206.04 L441.68,206.82 L441.79,207.59 L441.89,208.37 L442.00,209.15 L442.10,209.94 L442.21,210.73 L442.32,211.52 L442.42,212.31 L442.53,213.11 L442.64,213.91 L442.74,214.71 L442.85,215.52 L442.96,216.33 L443.07,217.14 L443.18,217.96 L443.28,218.78 L443.39,219.60 L443.50,220.43 L443.61,221.26 L443.72,222.09 L443.83,222.93 L443.94,223.77 L444.04,224.61 L444.15,225.45 L444.26,226.30 L444.37,227.16 L444.48,228.01 L444.59,228.87 L444.70,229.73 L444.81,230.60 L444.93,231.47 L445.04,232.34 L445.15,233.21 L445.26,234.09 L445.37,234.98 L445.48,235.86 L445.59,236.75 L445.70,237.65 L445.82,238.54 L445.93,239.44 L446.04,240.34 L446.15,241.25 L446.27,242.16 L446.38,243.08 L446.49,243.99 L446.61,244.92 L446.72,245.84 L446.83,246.77 L446.95,247.70 L447.06,248.64 L447.18,249.57 L447.29,250.52 L447.41,251.46 L447.52,252.41 L447.64,253.37 L447.75,254.33 L447.87,255.29 L447.98,256.25 L448.10,257.22 L448.21,258.19 L448.33,259.17 L448.45,260.15 L448.56,261.14 L448.68,262.12 L448.80,263.11 L448.92,264.11 L449.03,265.11 L449.15,266.11 L449.27,267.12 L449.39,268.13 L449.51,269.15 L449.62,270.17 L449.74,271.19 L449.86,272.22 L449.98,273.25 L450.10,274.28 L450.22,275.32 L450.34,276.37 L450.46,277.41 L450.58,278.46 L450.70,279.52 L450.82,280.58 L450.94,281.64 L451.06,282.71 L451.18,283.78 L451.30,284.86 L451.43,285.94 L451.55,287.02 L451.67,288.11 L451.79,289.20 L451.92,290.30 L452.04,291.40 L452.16,292.51 L452.28,293.62 L452.41,294.73 L452.53,295.85 L452.65,296.98 L452.78,298.10 L452.90,299.24 L453.03,300.37 L453.15,301.51 L453.28,302.66 L453.40,303.81 L453.53,304.96 L453.65,306.12 L453.78,307.28 L453.91,308.45 L454.03,309.62 L454.16,310.80 L454.29,311.98 L454.41,313.17 L454.54,314.36 L454.67,315.55 L454.79,316.75 L454.92,317.96 L455.05,319.17 L455.18,320.38 L455.31,321.60 L455.44,322.83 L455.57,324.05 L455.70,325.29 L455.82,326.52 L455.95,327.77 L456.08,329.02 L456.21,330.27 L456.35,331.53 L456.48,332.79 L456.61,334.05 L456.74,335.33 L456.87,336.60 L457.00,337.89 L457.13,339.17 L457.27,340.47 L457.40,341.76 L457.53,343.07 L457.66,344.37 L457.80,345.69 L457.93,347.00 L458.07,348.33 L458.20,349.65 L458.33,350.99 L458.47,352.33 L458.60,353.67 L458.74,355.02 L458.87,356.37 L459.01,357.73 L459.14,359.10 L459.28,360.47 L459.42,361.84 L459.55,363.22 L459.69,364.61 L459.83,366.00" stroke="#2f8f2f"/>
<path d="M42.80,366.00 L43.82,364.94 L44.62,364.11 L45.42,363.28 L46.22,362.45 L47.02,361.62 L47.82,360.79 L48.62,359.96 L49.42,359.13 L50.21,358.30 L51.01,357.47 L51.81,356.64 L52.61,355.81 L53.41,354.98 L54.21,354.15 L55.01,353.32 L55.81,352.49 L56.61,351.66 L57.40,350.83 L58.20,350.00 L59.00,349.17 L59.80,348.34 L60.60,347.51 L61.40,346.68 L62.20,345.85 L63.00,345.02 L63.80,344.19 L64.59,343.36 L65.39,342.53 L66.19,341.70 L66.99,340.87 L67.79,340.04 L68.59,339.21 L69.39,338.38 L70.19,337.55 L70.99,336.72 L71.79,335.89 L72.58,335.06 L73.38,334.23 L74.18,333.40 L74.98,332.57 L75.78,331.74 L76.58,330.91 L77.38,330.08 L78.18,329.25 L78.98,328.42 L79.77,327.59 L80.57,326.76 L81.37,325.93 L82.17,325.10 L82.97,324.27 L83.77,323.44 L84.57,322.61 L85.37,321.78 L86.17,320.95 L86.97,320.12 L87.76,319.29 L88.56,318.46 L89.36,317.63 L90.16,316.80 L90.96,315.97 L91.76,315.14 L92.56,314.31 L93.36,313.48 L94.16,312.65 L94.95,311.82 L95.75,310.99 L96.55,310.16 L97.35,309.33 L98.15,308.50 L98.95,307.67 L99.75,306.84 L100.55,306.01 L101.35,305.18 L102.14,304.35 L102.94,303.52 L103.74,302.69 L104.54,301.86 L105.34,301.03 L106.14,300.20 L106.94,299.37 L107.74,298.54 L108.54,297.71 L109.34,296.88 L110.13,296.05 L110.93,295.22 L111.73,294.39 L112.53,293.56 L113.33,292.73 L114.13,291.90 L114.93,291.07 L115.73,290.24 L116.53,289.41 L117.32,288.58 L118.12,287.75 L118.92,286.92 L119.72,286.09 L120.52,285.25 L121.32,284.42 L122.12,283.59 L122.92,282.76 L123.72,281.93 L124.52,281.10 L125.31,280.27 L126.11,279.44 L126.91,278.61 L127.71,277.78 L128.51,276.95 L129.31,276.12 L130.11,275.29 L130.91,274.46 L131.71,273.63 L132.50,272.80 L133.30,271.97 L134.10,271.14 L134.90,270.31 L135.70,269.48 L136.50,268.65 L137.30,267.82 L138.10,266.99 L138.90,266.16 L139.69,265.33 L140.49,264.50 L141.29,263.67 L142.09,262.84 L142.89,262.01 L143.69,261.18 L144.49,260.35 L145.29,259.52 L146.09,258.69 L146.89,257.86 L147.68,257.03 L148.48,256.20 L149.28,255.37 L150.08,254.54 L150.88,253.71 L151.68,252.88 L152.48,252.05 L153.28,251.22 L154.08,250.39 L154.87,249.56 L155.67,248.73 L156.47,247.90 L157.27,247.07 L158.07,246.24 L158.87,245.41 L159.67,244.58 L160.47,243.75 L161.27,242.92 L162.07,242.09 L162.86,241.26 L163.66,240.43 L164.46,239.60 L165.26,238.77 L166.06,237.94 L166.86,237.11 L167.66,236.28 L168.46,235.45 L169.26,234.62 L170.05,233.79 L170.85,232.96 L171.65,232.13 L172.45,231.30 L173.25,230.47 L174.05,229.64 L174.85,228.81 L175.65,227.98 L176.45,227.15 L177.24,226.32 L178.04,225.49 L178.84,224.66 L179.64,223.83 L180.44,223.00 L181.24,222.17 L182.04,221.34 L182.84,220.51 L183.64,219.68 L184.44,218.85 L185.23,218.02 L186.03,217.19 L186.83,216.36 L187.63,215.53 L188.43,214.70 L189.23,213.87 L190.03,213.04 L190.83,212.21 L191.63,211.38 L192.42,210.55 L193.22,209.72 L194.02,208.89 L194.82,208.06 L195.62,207.23 L196.42,206.40 L197.22,205.57 L198.02,204.74 L198.82,203.91 L199.62,203.08 L200.41,202.25 L201.21,201.42 L202.01,200.59 L202.81,199.76 L203.61,198.93 L204.41,198.10 L205.21,197.27 L206.01,196.44 L206.81,195.61 L207.60,194.78 L208.40,193.95 L209.20,193.12 L210.00,192.29 L210.80,191.46 L211.60,190.63 L212.40,189.80 L213.20,188.97 L214.00,188.14 L214.80,187.31 L215.59,186.48 L216.39,185.65 L217.19,184.82 L217.99,183.99 L218.79,183.16 L219.59,182.33 L220.39,181.50 L221.19,180.67 L221.99,179.84 L222.78,179.01 L223.58,178.18 L224.38,177.35 L225.18,176.52 L225.98,175.69 L226.78,174.86 L227.58,174.03 L228.38,173.20 L229.18,172.37 L229.98,171.54 L230.77,170.71 L231.57,169.88 L232.37,169.05 L233.17,168.23 L233.97,167.40 L234.77,166.57 L235.57,165.74 L236.37,164.91 L237.17,164.08 L237.96,163.25 L238.76,162.42 L239.56,161.59 L240.36,160.76 L241.16,159.93 L241.96,159.10 L242.76,158.27 L243.56,157.44 L244.36,156.61 L245.16,155.78 L245.95,154.95 L246.75,154.12 L247.55,153.29 L248.35,152.46 L249.15,151.63 L249.95,150.80 L250.75,149.97 L251.55,149.14 L252.35,148.31 L253.15,147.48 L253.94,146.66 L254.64,145.94 L255.33,145.22 L256.02,144.51 L256.71,143.79 L257.40,143.07 L258.09,142.36 L258.78,141.64 L259.47,140.92 L260.16,140.21 L260.85,139.49 L261.54,138.78 L262.23,138.06 L262.92,137.34 L263.61,136.63 L264.30,135.91 L264.99,135.20 L265.68,134.48 L266.37,133.76 L267.06,133.05 L267.75,132.33 L268.44,131.62 L269.14,130.90 L269.83,130.19 L270.52,129.47 L271.21,128.76 L271.90,128.04 L272.59,127.33 L273.28,126.61 L273.97,125.90 L274.66,125.18 L275.35,124.47 L276.04,123.75 L276.73,123.04 L277.42,122.32 L278.11,121.61 L278.80,120.89 L279.49,120.18 L280.19,119.47 L280.88,118.75 L281.57,118.04 L282.26,117.33 L282.95,116.61 L283.64,115.90 L284.33,115.19 L285.02,114.48 L285.71,113.76 L286.40,113.05 L287.09,112.34 L287.79,111.63 L288.48,110.92 L289.17,110.21 L289.86,109.50 L290.55,108.78 L291.24,108.07 L291.93,107.36 L292.62,106.66 L293.31,105.95 L294.01,105.24 L294.70,104.53 L295.39,103.82 L296.08,103.11 L296.77,102.41 L297.46,101.70 L298.15,100.99 L298.85,100.29 L299.54,99.58 L300.23,98.88 L300.92,98.17 L301.61,97.47 L302.30,96.77 L303.00,96.06 L303.69,95.36 L304.38,94.66 L305.07,93.96 L305.82,93.21 L306.56,92.45 L307.31,91.70 L308.05,90.95 L308.80,90.20 L309.55,89.46 L310.29,88.71 L311.04,87.96 L311.78,87.22 L312.53,86.47 L313.28,85.73 L314.02,84.99 L314.77,84.25 L315.52,83.52 L316.27,82.78 L317.01,82.05 L317.76,81.32 L318.51,80.59 L319.26,79.86 L320.00,79.13 L320.75,78.41 L321.50,77.69 L322.25,76.97 L323.00,76.25 L323.75,75.54 L324.50,74.83 L325.25,74.12 L326.00,73.42 L326.75,72.71 L327.50,72.02 L328.25,71.32 L329.00,70.63 L329.75,69.95 L330.50,69.26 L331.26,68.59 L332.01,67.91 L332.76,67.24 L333.52,66.58 L334.22,65.97 L334.92,65.36 L335.62,64.76 L336.32,64.16 L337.02,63.57 L337.73,62.98 L338.43,62.40 L339.13,61.83 L339.84,61.26 L340.54,60.70 L341.25,60.15 L341.95,59.60 L342.66,59.06 L343.37,58.53 L344.08,58.01 L344.79,57.49 L345.50,56.99 L346.21,56.49 L346.92,56.00 L347.63,55.53 L348.34,55.06 L349.06,54.61 L349.77,54.17 L350.49,53.74 L351.20,53.32 L351.92,52.91 L352.64,52.52 L353.36,52.15 L354.09,51.79 L354.81,51.44 L355.53,51.12 L356.26,50.81 L356.99,50.51 L357.72,50.24 L358.45,49.99 L359.18,49.75 L359.91,49.54 L360.65,49.35 L361.39,49.19 L362.13,49.05 L362.87,48.93 L363.62,48.84 L364.36,48.78 L365.11,48.75 L365.86,48.75 L366.62,48.78 L367.37,48.85 L368.07,48.94 L368.78,49.06 L369.48,49.22 L370.19,49.41 L370.90,49.63 L371.62,49.89 L372.33,50.18 L373.06,50.52 L373.78,50.90 L374.51,51.32 L375.24,51.79 L375.97,52.30 L376.71,52.86 L377.45,53.47 L378.19,54.13 L378.94,54.85 L379.63,55.56 L380.33,56.32 L380.96,57.05 L381.60,57.83 L382.18,58.57 L382.76,59.35 L383.28,60.07 L383.80,60.83 L384.32,61.62 L384.78,62.34 L385.24,63.08 L385.71,63.86 L386.17,64.66 L386.57,65.36 L386.98,66.09 L387.38,66.85 L387.79,67.62 L388.19,68.42 L388.60,69.24 L388.95,69.94 L389.29,70.66 L389.63,71.39 L389.98,72.15 L390.33,72.92 L390.68,73.70 L391.03,74.51 L391.38,75.34 L391.73,76.18 L392.08,77.04 L392.37,77.75 L392.65,78.47 L392.94,79.20 L393.23,79.94 L393.51,80.70 L393.80,81.47 L394.09,82.25 L394.38,83.05 L394.68,83.86 L394.97,84.69 L395.26,85.53 L395.56,86.39 L395.85,87.26 L396.15,88.14 L396.45,89.04 L396.75,89.96 L397.05,90.89 L397.27,91.60 L397.50,92.32 L397.73,93.04 L397.96,93.78 L398.18,94.53 L398.41,95.28 L398.64,96.05 L398.87,96.82 L399.11,97.61 L399.34,98.40 L399.57,99.21 L399.80,100.02 L400.04,100.85 L400.27,101.68 L400.51,102.53 L400.74,103.38 L400.98,104.25 L401.22,105.13 L401.46,106.01 L401.69,106.91 L401.93,107.82 L402.18,108.74 L402.42,109.68 L402.66,110.62 L402.90,111.58 L403.15,112.55 L403.39,113.52 L403.64,114.52 L403.88,115.52 L404.13,116.53 L404.38,117.56 L404.63,118.60 L404.79,119.30 L404.96,120.01 L405.13,120.72 L405.29,121.44 L405.46,122.16 L405.63,122.89 L405.80,123.63 L405.97,124.37 L406.14,125.12 L406.31,125.87 L406.48,126.63 L406.65,127.39 L406.82,128.16 L406.99,128.94 L407.16,129.72 L407.33,130.51 L407.51,131.31 L407.68,132.11 L407.85,132.92 L408.03,133.74 L408.20,134.56 L408.37,135.39 L408.55,136.22 L408.73,137.06 L408.90,137.91 L409.08,138.77 L409.26,139.63 L409.43,140.50 L409.61,141.37 L409.79,142.25 L409.97,143.14 L410.15,144.04 L410.33,144.94 L410.51,145.85 L410.69,146.77 L410.87,147.70 L411.05,148.63 L411.23,149.57 L411.41,150.51 L411.60,151.47 L411.78,152.43 L411.97,153.40 L412.15,154.38 L412.34,155.36 L412.52,156.35 L412.71,157.35 L412.89,158.36 L413.08,159.38 L413.27,160.40 L413.46,161.43 L413.64,162.47 L413.83,163.52 L414.02,164.58 L414.21,165.64 L414.40,166.71 L414.59,167.79 L414.79,168.88 L414.98,169.98 L415.17,171.09 L415.37,172.20 L415.56,173.33 L415.75,174.46 L415.95,175.60 L416.14,176.75 L416.34,177.91 L416.54,179.08 L416.73,180.26 L416.93,181.44 L417.13,182.64 L417.33,183.84 L417.53,185.06 L417.73,186.28 L417.93,187.52 L418.13,188.76 L418.33,190.01 L418.54,191.27 L418.74,192.55 L418.94,193.83 L419.15,195.12 L419.35,196.42 L419.56,197.73 L419.77,199.05 L419.97,200.39 L420.18,201.73 L420.39,203.08 L420.60,204.45 L420.81,205.82 L421.02,207.20 L421.23,208.60 L421.33,209.30 L421.44,210.01 L421.55,210.71 L421.65,211.42 L421.76,212.13 L421.86,212.85 L421.97,213.57 L422.08,214.29 L422.19,215.01 L422.29,215.74 L422.40,216.47 L422.51,217.20 L422.62,217.93 L422.72,218.67 L422.83,219.41 L422.94,220.16 L423.05,220.90 L423.16,221.65 L423.27,222.40 L423.37,223.16 L423.48,223.92 L423.59,224.68 L423.70,225.44 L423.81,226.21 L423.92,226.98 L424.03,227.75 L424.14,228.52 L424.25,229.30 L424.36,230.08 L424.47,230.87 L424.58,231.66 L424.70,232.45 L424.81,233.24 L424.92,234.04 L425.03,234.84 L425.14,235.64 L425.25,236.45 L425.37,237.25 L425.48,238.07 L425.59,238.88 L425.70,239.70 L425.82,240.52 L425.93,241.35 L426.04,242.17 L426.16,243.00 L426.27,243.84 L426.38,244.68 L426.50,245.52 L426.61,246.36 L426.73,247.21 L426.84,248.06 L426.96,248.91 L427.07,249.77 L427.19,250.63 L427.30,251.49 L427.42,252.36 L427.53,253.23 L427.65,254.10 L427.77,254.98 L427.88,255.86 L428.00,256.74 L428.12,257.63 L428.23,258.52 L428.35,259.41 L428.47,260.31 L428.59,261.21 L428.70,262.12 L428.82,263.02 L428.94,263.94 L429.06,264.85 L429.18,265.77 L429.30,266.69 L429.42,267.62 L429.53,268.54 L429.65,269.48 L429.77,270.41 L429.89,271.35 L430.01,272.30 L430.13,273.24 L430.26,274.19 L430.38,275.15 L430.50,276.11 L430.62,277.07 L430.74,278.03 L430.86,279.00 L430.98,279.97 L431.11,280.95 L431.23,281.93 L431.35,282.91 L431.47,283.90 L431.60,284.89 L431.72,285.89 L431.84,286.89 L431.97,287.89 L432.09,288.90 L432.21,289.91 L432.34,290.92 L432.46,291.94 L432.59,292.96 L432.71,293.99 L432.84,295.02 L432.96,296.06 L433.09,297.09 L433.22,298.14 L433.34,299.18 L433.47,300.23 L433.59,301.29 L433.72,302.35 L433.85,303.41 L433.98,304.47 L434.10,305.55 L434.23,306.62 L434.36,307.70 L434.49,308.78 L434.62,309.87 L434.74,310.96 L434.87,312.06 L435.00,313.16 L435.13,314.26 L435.26,315.37 L435.39,316.48 L435.52,317.60 L435.65,318.72 L435.78,319.85 L435.91,320.98 L436.04,322.11 L436.18,323.25 L436.31,324.39 L436.44,325.54 L436.57,326.69 L436.70,327.85 L436.84,329.01 L436.97,330.17 L437.10,331.34 L437.24,332.52 L437.37,333.70 L437.50,334.88 L437.64,336.07 L437.77,337.26 L437.91,338.46 L438.04,339.66 L438.18,340.87 L438.31,342.08 L438.45,343.29 L438.58,344.51 L438.72,345.74 L438.86,346.97 L438.99,348.20 L439.13,349.44 L439.27,350.69 L439.41,351.94 L439.54,353.19 L439.68,354.45 L439.82,355.71 L439.96,356.98 L440.10,358.26 L440.24,359.53 L440.38,360.82 L440.52,362.11 L440.66,363.40 L440.80,364.70 L440.94,366.00" stroke="#8a2be2"/>
<path d="M42.80,366.00 L44.22,364.53 L44.98,363.74 L45.74,362.95 L46.50,362.16 L47.26,361.37 L48.02,360.58 L48.78,359.79 L49.54,359.00 L50.30,358.21 L51.06,357.42 L51.82,356.62 L52.58,355.83 L53.35,355.04 L54.11,354.25 L54.87,353.46 L55.63,352.67 L56.39,351.88 L57.15,351.09 L57.91,350.30 L58.67,349.51 L59.43,348.72 L60.19,347.93 L60.95,347.14 L61.71,346.35 L62.47,345.56 L63.23,344.77 L64.00,343.98 L64.76,343.19 L65.52,342.40 L66.28,341.61 L67.04,340.82 L67.80,340.03 L68.56,339.24 L69.32,338.45 L70.08,337.66 L70.84,336.87 L71.60,336.08 L72.36,335.29 L73.12,334.50 L73.89,333.71 L74.65,332.91 L75.41,332.12 L76.17,331.33 L76.93,330.54 L77.69,329.75 L78.45,328.96 L79.21,328.17 L79.97,327.38 L80.73,326.59 L81.49,325.80 L82.25,325.01 L83.01,324.22 L83.77,323.43 L84.54,322.64 L85.30,321.85 L86.06,321.06 L86.82,320.27 L87.58,319.48 L88.34,318.69 L89.10,317.90 L89.86,317.11 L90.62,316.32 L91.38,315.53 L92.14,314.74 L92.90,313.95 L93.66,313.16 L94.42,312.37 L95.19,311.58 L95.95,310.79 L96.71,310.00 L97.47,309.21 L98.23,308.41 L98.99,307.62 L99.75,306.83 L100.51,306.04 L101.27,305.25 L102.03,304.46 L102.79,303.67 L103.55,302.88 L104.31,302.09 L105.07,301.30 L105.84,300.51 L106.60,299.72 L107.36,298.93 L108.12,298.14 L108.88,297.35 L109.64,296.56 L110.40,295.77 L111.16,294.98 L111.92,294.19 L112.68,293.40 L113.44,292.61 L114.20,291.82 L114.96,291.03 L115.72,290.24 L116.49,289.45 L117.25,288.66 L118.01,287.87 L118.77,287.08 L119.53,286.29 L120.29,285.50 L121.05,284.70 L121.81,283.91 L122.57,283.12 L123.33,282.33 L124.09,281.54 L124.85,280.75 L125.61,279.96 L126.37,279.17 L127.14,278.38 L127.90,277.59 L128.66,276.80 L129.42,276.01 L130.18,275.22 L130.94,274.43 L131.70,273.64 L132.46,272.85 L133.22,272.06 L133.98,271.27 L134.74,270.48 L135.50,269.69 L136.26,268.90 L137.03,268.11 L137.79,267.32 L138.55,266.53 L139.31,265.74 L140.07,264.95 L140.83,264.16 L141.59,263.37 L142.35,262.58 L143.11,261.79 L143.87,261.00 L144.63,260.20 L145.39,259.41 L146.15,258.62 L146.91,257.83 L147.68,257.04 L148.44,256.25 L149.20,255.46 L149.96,254.67 L150.72,253.88 L151.48,253.09 L152.24,252.30 L153.00,251.51 L153.76,250.72 L154.52,249.93 L155.28,249.14 L156.04,248.35 L156.80,247.56 L157.56,246.77 L158.33,245.98 L159.09,245.19 L159.85,244.40 L160.61,243.61 L161.37,242.82 L162.13,242.03 L162.89,241.24 L163.65,240.45 L164.41,239.66 L165.17,238.87 L165.93,238.08 L166.69,237.29 L167.45,236.50 L168.21,235.70 L168.98,234.91 L169.74,234.12 L170.50,233.33 L171.26,232.54 L172.02,231.75 L172.78,230.96 L173.54,230.17 L174.30,229.38 L175.06,228.59 L175.82,227.80 L176.58,227.01 L177.34,226.22 L178.10,225.43 L178.86,224.64 L179.63,223.85 L180.39,223.06 L181.15,222.27 L181.91,221.48 L182.67,220.69 L183.43,219.90 L184.19,219.11 L184.95,218.32 L185.71,217.53 L186.47,216.74 L187.23,215.95 L187.99,215.16 L188.75,214.37 L189.52,213.58 L190.28,212.79 L191.04,212.00 L191.80,211.21 L192.56,210.41 L193.32,209.62 L194.08,208.83 L194.84,208.04 L195.60,207.25 L196.36,206.46 L197.12,205.67 L197.88,204.88 L198.64,204.09 L199.40,203.30 L200.17,202.51 L200.93,201.72 L201.69,200.93 L202.45,200.14 L203.21,199.35 L203.97,198.56 L204.73,197.77 L205.49,196.98 L206.25,196.19 L207.01,195.40 L207.77,194.61 L208.53,193.82 L209.29,193.03 L210.05,192.24 L210.82,191.45 L211.58,190.66 L212.34,189.87 L213.10,189.08 L213.86,188.29 L214.62,187.50 L215.38,186.71 L216.14,185.92 L216.90,185.13 L217.66,184.34 L218.42,183.55 L219.18,182.76 L219.94,181.97 L220.71,181.18 L221.47,180.39 L222.23,179.60 L222.99,178.81 L223.75,178.02 L224.51,177.23 L225.27,176.43 L226.03,175.64 L226.79,174.85 L227.55,174.06 L228.31,173.27 L229.07,172.48 L229.83,171.69 L230.60,170.90 L231.36,170.11 L232.12,169.32 L232.88,168.53 L233.64,167.75 L234.40,166.96 L235.16,166.17 L235.92,165.38 L236.68,164.59 L237.44,163.80 L238.20,163.01 L238.96,162.22 L239.72,161.43 L240.49,160.64 L241.19,159.90 L241.90,159.17 L242.61,158.43 L243.32,157.70 L244.03,156.96 L244.73,156.23 L245.44,155.49 L246.15,154.76 L246.86,154.03 L247.57,153.29 L248.27,152.56 L248.98,151.82 L249.69,151.09 L250.40,150.35 L251.11,149.62 L251.81,148.89 L252.52,148.15 L253.23,147.42 L253.94,146.68 L254.65,145.95 L255.35,145.22 L256.06,144.48 L256.77,143.75 L257.48,143.02 L258.19,142.28 L258.90,141.55 L259.60,140.82 L260.31,140.08 L261.02,139.35 L261.73,138.62 L262.44,137.89 L263.14,137.15 L263.85,136.42 L264.56,135.69 L265.27,134.96 L265.98,134.23 L266.69,133.49 L267.40,132.76 L268.10,132.03 L268.81,131.30 L269.52,130.57 L270.23,129.84 L270.94,129.11 L271.65,128.38 L272.35,127.65 L273.06,126.92 L273.77,126.19 L274.48,125.46 L275.19,124.73 L275.90,124.00 L276.61,123.27 L277.32,122.55 L278.02,121.82 L278.73,121.09 L279.44,120.37 L280.15,119.64 L280.86,118.91 L281.57,118.19 L282.28,117.46 L282.99,116.74 L283.70,116.02 L284.41,115.29 L285.12,114.57 L285.83,113.85 L286.54,113.13 L287.25,112.41 L287.96,111.69 L288.67,110.97 L289.38,110.25 L290.09,109.53 L290.80,108.81 L291.51,108.10 L292.22,107.38 L292.93,106.67 L293.64,105.96 L294.35,105.25 L295.06,104.54 L295.77,103.83 L296.48,103.12 L297.19,102.41 L297.90,101.71 L298.62,101.00 L299.33,100.30 L300.04,99.60 L300.75,98.90 L301.46,98.20 L302.18,97.51 L302.89,96.82 L303.60,96.12 L304.32,95.43 L305.03,94.75 L305.74,94.06 L306.46,93.38 L307.17,92.70 L307.89,92.02 L308.60,91.35 L309.32,90.68 L310.03,90.01 L310.75,89.34 L311.46,88.68 L312.18,88.02 L312.90,87.37 L313.61,86.72 L314.33,86.07 L315.05,85.43 L315.77,84.79 L316.49,84.16 L317.21,83.53 L317.93,82.91 L318.65,82.29 L319.37,81.68 L320.09,81.07 L320.81,80.48 L321.54,79.88 L322.26,79.30 L322.99,78.72 L323.71,78.15 L324.44,77.58 L325.17,77.03 L325.89,76.48 L326.62,75.94 L327.35,75.41 L328.08,74.90 L328.81,74.39 L329.55,73.89 L330.28,73.41 L331.02,72.93 L331.75,72.47 L332.49,72.02 L333.23,71.59 L333.97,71.17 L334.71,70.77 L335.46,70.38 L336.20,70.01 L336.95,69.65 L337.70,69.32 L338.45,69.00 L339.20,68.71 L339.90,68.45 L340.60,68.21 L341.31,68.00 L342.01,67.80 L342.72,67.62 L343.43,67.47 L344.14,67.34 L344.86,67.24 L345.57,67.16 L346.29,67.11 L347.02,67.09 L347.74,67.10 L348.47,67.13 L349.20,67.20 L349.93,67.31 L350.67,67.45 L351.41,67.62 L352.15,67.84 L352.90,68.09 L353.65,68.39 L354.41,68.73 L355.11,69.08 L355.81,69.48 L356.52,69.91 L357.23,70.40 L357.95,70.92 L358.67,71.50 L359.39,72.13 L360.12,72.80 L360.86,73.54 L361.53,74.26 L362.21,75.03 L362.84,75.77 L363.40,76.48 L363.97,77.22 L364.54,78.00 L365.05,78.73 L365.56,79.49 L366.08,80.28 L366.53,81.00 L366.98,81.75 L367.44,82.52 L367.90,83.32 L368.30,84.03 L368.70,84.76 L369.10,85.52 L369.50,86.29 L369.90,87.09 L370.31,87.91 L370.65,88.61 L370.99,89.32 L371.33,90.06 L371.67,90.81 L372.02,91.58 L372.36,92.37 L372.71,93.17 L373.06,94.00 L373.41,94.84 L373.76,95.70 L374.05,96.40 L374.33,97.12 L374.62,97.85 L374.90,98.59 L375.19,99.34 L375.48,100.11 L375.77,100.89 L376.06,101.69 L376.35,102.50 L376.64,103.32 L376.94,104.16 L377.23,105.01 L377.53,105.88 L377.83,106.76 L378.12,107.66 L378.42,108.58 L378.73,109.50 L378.95,110.21 L379.18,110.93 L379.41,111.65 L379.64,112.39 L379.87,113.13 L380.10,113.88 L380.33,114.64 L380.56,115.42 L380.79,116.20 L381.03,116.99 L381.26,117.79 L381.49,118.60 L381.73,119.43 L381.97,120.26 L382.20,121.10 L382.44,121.95 L382.68,122.82 L382.92,123.69 L383.16,124.58 L383.40,125.47 L383.65,126.38 L383.89,127.30 L384.13,128.23 L384.38,129.17 L384.62,130.12 L384.87,131.08 L385.12,132.06 L385.37,133.05 L385.62,134.05 L385.87,135.06 L386.12,136.08 L386.37,137.12 L386.62,138.17 L386.79,138.88 L386.96,139.59 L387.13,140.31 L387.30,141.03 L387.47,141.76 L387.65,142.50 L387.82,143.24 L387.99,143.99 L388.16,144.74 L388.34,145.50 L388.51,146.27 L388.68,147.04 L388.86,147.82 L389.03,148.60 L389.21,149.39 L389.39,150.19 L389.56,150.99 L389.74,151.80 L389.92,152.62 L390.10,153.44 L390.27,154.27 L390.45,155.11 L390.63,155.95 L390.81,156.80 L390.99,157.66 L391.17,158.52 L391.36,159.39 L391.54,160.27 L391.72,161.15 L391.90,162.04 L392.09,162.94 L392.27,163.84 L392.46,164.75 L392.64,165.67 L392.83,166.60 L393.01,167.53 L393.20,168.47 L393.39,169.42 L393.57,170.38 L393.76,171.34 L393.95,172.31 L394.14,173.29 L394.33,174.28 L394.52,175.27 L394.71,176.28 L394.90,177.29 L395.10,178.31 L395.29,179.33 L395.48,180.37 L395.68,181.41 L395.87,182.46 L396.07,183.52 L396.26,184.58 L396.46,185.66 L396.66,186.74 L396.85,187.84 L397.05,188.94 L397.25,190.05 L397.45,191.17 L397.65,192.29 L397.85,193.43 L398.05,194.57 L398.26,195.73 L398.46,196.89 L398.66,198.06 L398.87,199.25 L399.07,200.44 L399.28,201.64 L399.48,202.84 L399.69,204.06 L399.90,205.29 L400.10,206.53 L400.31,207.78 L400.52,209.03 L400.73,210.30 L400.94,211.58 L401.15,212.87 L401.36,214.16 L401.58,215.47 L401.79,216.79 L402.01,218.12 L402.22,219.45 L402.44,220.80 L402.65,222.16 L402.87,223.53 L403.09,224.91 L403.31,226.30 L403.52,227.70 L403.63,228.41 L403.74,229.12 L403.85,229.83 L403.97,230.54 L404.08,231.26 L404.19,231.98 L404.30,232.70 L404.41,233.42 L404.52,234.15 L404.63,234.88 L404.74,235.61 L404.86,236.35 L404.97,237.09 L405.08,237.83 L405.19,238.57 L405.31,239.32 L405.42,240.07 L405.53,240.82 L405.65,241.58 L405.76,242.34 L405.87,243.10 L405.99,243.87 L406.10,244.63 L406.22,245.41 L406.33,246.18 L406.44,246.96 L406.56,247.74 L406.67,248.52 L406.79,249.31 L406.91,250.09 L407.02,250.89 L407.14,251.68 L407.25,252.48 L407.37,253.28 L407.49,254.09 L407.60,254.89 L407.72,255.71 L407.84,256.52 L407.96,257.34 L408.07,258.16 L408.19,258.98 L408.31,259.81 L408.43,260.64 L408.55,261.47 L408.66,262.31 L408.78,263.15 L408.90,263.99 L409.02,264.84 L409.14,265.69 L409.26,266.54 L409.38,267.40 L409.50,268.25 L409.62,269.12 L409.74,269.98 L409.86,270.85 L409.99,271.73 L410.11,272.60 L410.23,273.48 L410.35,274.37 L410.47,275.25 L410.59,276.14 L410.72,277.04 L410.84,277.93 L410.96,278.83 L411.09,279.74 L411.21,280.65 L411.33,281.56 L411.46,282.47 L411.58,283.39 L411.71,284.31 L411.83,285.24 L411.95,286.17 L412.08,287.10 L412.20,288.03 L412.33,288.97 L412.46,289.92 L412.58,290.87 L412.71,291.82 L412.83,292.77 L412.96,293.73 L413.09,294.69 L413.22,295.66 L413.34,296.63 L413.47,297.60 L413.60,298.58 L413.73,299.56 L413.86,300.54 L413.98,301.53 L414.11,302.52 L414.24,303.52 L414.37,304.52 L414.50,305.53 L414.63,306.53 L414.76,307.55 L414.89,308.56 L415.02,309.58 L415.15,310.61 L415.28,311.63 L415.42,312.67 L415.55,313.70 L415.68,314.74 L415.81,315.79 L415.94,316.83 L416.08,317.89 L416.21,318.94 L416.34,320.00 L416.48,321.07 L416.61,322.14 L416.74,323.21 L416.88,324.29 L417.01,325.37 L417.15,326.45 L417.28,327.54 L417.42,328.64 L417.55,329.73 L417.69,330.84 L417.82,331.94 L417.96,333.06 L418.10,334.17 L418.23,335.29 L418.37,336.42 L418.51,337.54 L418.65,338.68 L418.79,339.81 L418.92,340.96 L419.06,342.10 L419.20,343.25 L419.34,344.41 L419.48,345.57 L419.62,346.73 L419.76,347.90 L419.90,349.08 L420.04,350.26 L420.18,351.44 L420.32,352.63 L420.46,353.82 L420.61,355.01 L420.75,356.22 L420.89,357.42 L421.03,358.63 L421.17,359.85 L421.32,361.07 L421.46,362.30 L421.61,363.53 L421.75,364.76 L421.89,366.00" stroke="#0a2a96"/>
</g>
<defs><linearGradient id="lg" gradientUnits="userSpaceOnUse" x1="42.80" y1="366.00" x2="297.96" y2="100.91">
<stop offset="0" stop-color="#707878" stop-opacity="0.9"/>
<stop offset="0.22" stop-color="#505a88" stop-opacity="0.85"/>
<stop offset="0.5" stop-color="#2c2878" stop-opacity="0.85"/>
<stop offset="0.8" stop-color="#2c2878" stop-opacity="0.55"/>
<stop offset="1" stop-color="#2c2878" stop-opacity="0"/>
</linearGradient></defs>
<path d="M42.80,366.00 L297.96,100.91" stroke="url(#lg)" stroke-width="2.3" fill="none"/>
<g fill="none" stroke="#000" stroke-width="1.2">
<path d="M62.40,365.90 V363.50 M62.40,12.95 V16.15 M82.06,365.90 V363.50 M82.06,12.95 V16.15 M101.72,365.90 V363.50 M101.72,12.95 V16.15 M121.38,365.90 V363.50 M121.38,12.95 V16.15 M141.05,365.90 V359.90 M141.05,12.95 V19.75 M160.71,365.90 V363.50 M160.71,12.95 V16.15 M180.37,365.90 V363.50 M180.37,12.95 V16.15 M200.03,365.90 V363.50 M200.03,12.95 V16.15 M219.69,365.90 V363.50 M219.69,12.95 V16.15 M239.35,365.90 V359.90 M239.35,12.95 V19.75 M259.01,365.90 V363.50 M259.01,12.95 V16.15 M278.67,365.90 V363.50 M278.67,12.95 V16.15 M298.33,365.90 V363.50 M298.33,12.95 V16.15 M317.99,365.90 V363.50 M317.99,12.95 V16.15 M337.66,365.90 V359.90 M337.66,12.95 V19.75 M357.32,365.90 V363.50 M357.32,12.95 V16.15 M376.98,365.90 V363.50 M376.98,12.95 V16.15 M396.64,365.90 V363.50 M396.64,12.95 V16.15 M416.30,365.90 V363.50 M416.30,12.95 V16.15 M435.96,365.90 V359.90 M435.96,12.95 V19.75 M455.62,365.90 V363.50 M455.62,12.95 V16.15 M475.28,365.90 V363.50 M475.28,12.95 V16.15 M494.94,365.90 V363.50 M494.94,12.95 V16.15 M514.60,365.90 V363.50 M514.60,12.95 V16.15 M42.75,330.63 H45.95 M533.60,330.63 H530.40 M42.75,295.46 H49.35 M533.60,295.46 H527.00 M42.75,260.29 H45.95 M533.60,260.29 H530.40 M42.75,225.12 H49.35 M533.60,225.12 H527.00 M42.75,189.95 H45.95 M533.60,189.95 H530.40 M42.75,154.78 H49.35 M533.60,154.78 H527.00 M42.75,119.61 H45.95 M533.60,119.61 H530.40 M42.75,84.44 H49.35 M533.60,84.44 H527.00 M42.75,49.27 H45.95 M533.60,49.27 H530.40"/>
</g>
<rect x="42.75" y="12.95" width="490.85" height="352.95" rx="1.5" fill="none" stroke="#000" stroke-width="2.2"/>
<g fill="#fff" stroke="#000" stroke-width="1.6">
<circle cx="401.70" cy="13.20" r="3.95"/>
<circle cx="384.10" cy="31.30" r="3.95"/>
<circle cx="365.00" cy="48.10" r="3.95"/>
<circle cx="346.10" cy="66.80" r="3.95"/>
<circle cx="327.60" cy="85.50" r="3.95"/>
</g>
<g class="lab">
<text x="38.8" y="369.7" text-anchor="end">0</text>
<text x="38.8" y="299.3" text-anchor="end">20</text>
<text x="38.8" y="228.9" text-anchor="end">40</text>
<text x="38.8" y="158.6" text-anchor="end">60</text>
<text x="38.8" y="88.2" text-anchor="end">80</text>
<text x="38.8" y="16.8" text-anchor="end">100</text>
<text x="42.8" y="379.2" text-anchor="middle">0</text>
<text x="141.0" y="379.2" text-anchor="middle">5</text>
<text x="239.4" y="379.2" text-anchor="middle">10</text>
<text x="337.7" y="379.2" text-anchor="middle">15</text>
<text x="436.0" y="379.2" text-anchor="middle">20</text>
<text x="533.6" y="379.2" text-anchor="middle">25</text>

</g>
<g class="leg">
<text transform="translate(62.3,33.8) scale(1.09,1)">Incident Irrad. = 1000 W/m²</text>
<path d="M62,47.5 H92" stroke="#8c1f1f" stroke-width="1.6"/>
<text transform="translate(96.8,51.0) scale(1.09,1)">temp. = 25 °C,</text>
<text transform="translate(168.3,51.0) scale(0.96,1)">Pmpp =</text>
<text transform="translate(203.0,51.0) scale(1.2,1)">100.0 W</text>
<path d="M62,61.5 H92" stroke="#2f8f2f" stroke-width="2.2"/>
<text transform="translate(96.8,65.0) scale(1.09,1)">temp. = 35 °C,</text>
<text transform="translate(168.3,65.0) scale(0.96,1)">Pmpp =</text>
<text transform="translate(203.0,65.0) scale(1.2,1)">95.0 W</text>
<path d="M62,75.5 H92" stroke="#8a2be2" stroke-width="2.2"/>
<text transform="translate(96.8,79.0) scale(1.09,1)">temp. = 45 °C,</text>
<text transform="translate(168.3,79.0) scale(0.96,1)">Pmpp =</text>
<text transform="translate(203.0,79.0) scale(1.2,1)">90.0 W</text>
<path d="M62,89.5 H92" stroke="#0a2a96" stroke-width="2.2"/>
<text transform="translate(96.8,93.0) scale(1.09,1)">temp. = 55 °C,</text>
<text transform="translate(168.3,93.0) scale(0.96,1)">Pmpp =</text>
<text transform="translate(203.0,93.0) scale(1.2,1)">84.8 W</text>
<path d="M62,103.5 H92" stroke="#444444" stroke-width="1.2"/>
<text transform="translate(96.8,107.0) scale(1.09,1)">temp. = 65 °C,</text>
<text transform="translate(168.3,107.0) scale(0.96,1)">Pmpp =</text>
<text transform="translate(203.0,107.0) scale(1.2,1)">79.5 W</text>

</g>
<rect x="41.6" y="392.6" width="2.4" height="1.2" fill="#aaa"/>
<rect x="532.9" y="390.3" width="1.5" height="3.3" fill="#444"/>
<text class="ttl" x="287.7" y="391" text-anchor="middle" style="font-size:12.5px">Voltage [V]</text>
<text class="ttl" transform="translate(18,184) rotate(-90)" text-anchor="middle">Power [W]</text>
</svg>
</body></html>
